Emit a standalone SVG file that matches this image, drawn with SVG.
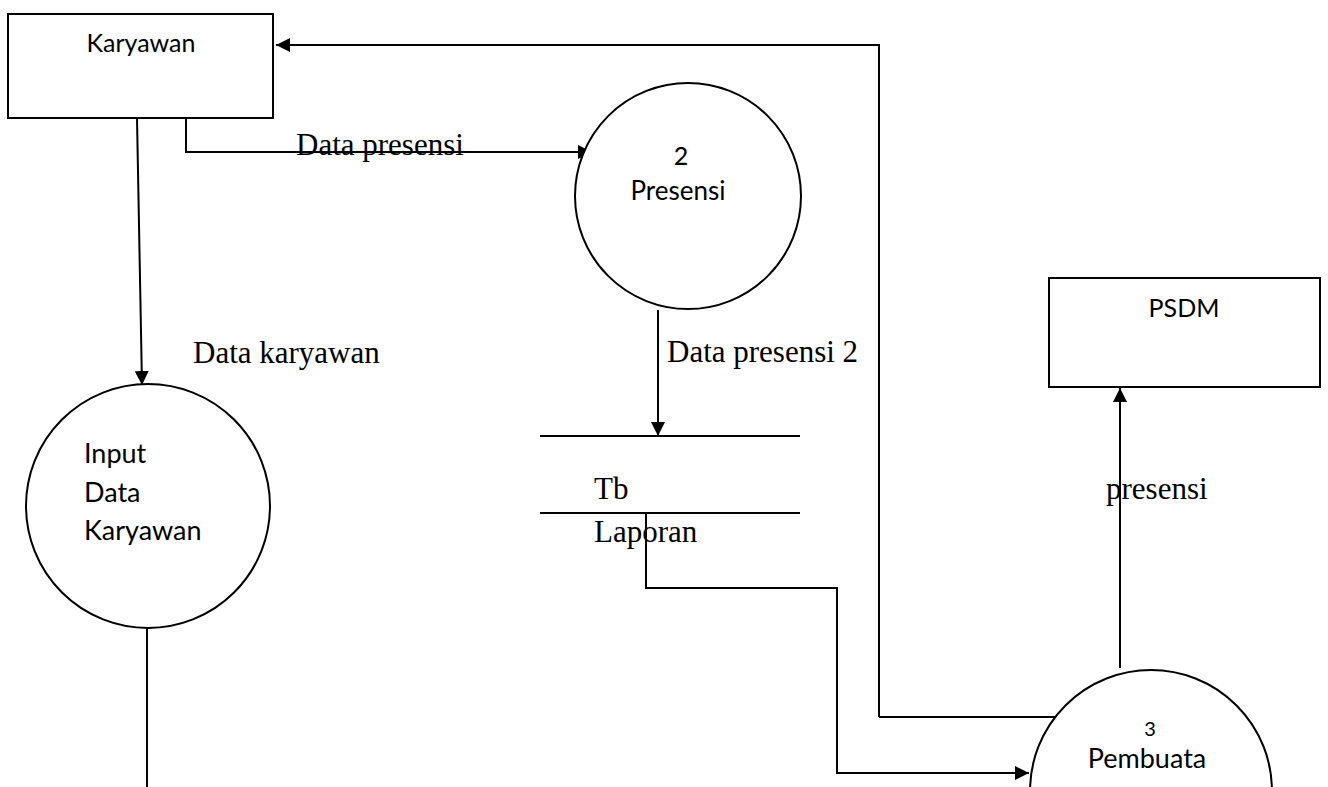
<svg xmlns="http://www.w3.org/2000/svg" width="1328" height="787" viewBox="0 0 1328 787">
<defs>
<marker id="arr" viewBox="0 0 10 10" refX="10" refY="5" markerWidth="14" markerHeight="14" markerUnits="userSpaceOnUse" orient="auto">
<path d="M0,0 L10,5 L0,10 z" fill="#000"/>
</marker>
</defs>
<style>
.sh{fill:#fff;stroke:#000;stroke-width:2}
.ln{fill:none;stroke:#000;stroke-width:2}
.sans{font-family:Lato,"Open Sans",sans-serif;fill:#000}
.serif{font-family:"Liberation Serif","Times New Roman",serif;fill:#000;font-size:31px}
</style>
<rect width="1328" height="787" fill="#fff"/>
<g id="connectors">
<path class="ln" d="M879,717 L879,45 L276,45" marker-end="url(#arr)"/>
<path class="ln" d="M879,717 L1068,717"/>
<path class="ln" d="M186,118 L186,152 L592,152" marker-end="url(#arr)"/>
<path class="ln" d="M137,118 L142,385" marker-end="url(#arr)"/>
<path class="ln" d="M147,627 L147,787"/>
<path class="ln" d="M658,310 L658,436" marker-end="url(#arr)"/>
<path class="ln" d="M646,513 L646,588 L837,588 L837,773 L1029,773" marker-end="url(#arr)"/>
<path class="ln" d="M1120,668 L1120,388" marker-end="url(#arr)"/>
<text class="serif" x="296" y="155">Data presensi</text>
<text class="serif" x="193" y="363">Data karyawan</text>
<text class="serif" x="667" y="362">Data presensi 2</text>
<text class="serif" x="1106" y="499">presensi</text>
</g>
<g id="karyawan">
<rect class="sh" x="8" y="14" width="265" height="104"/>
<text class="sans" x="141" y="52" font-size="25" text-anchor="middle">Karyawan</text>
</g>
<g id="presensi">
<circle class="sh" cx="688" cy="196" r="113"/>
<text class="sans" x="681" y="165" font-size="25" text-anchor="middle">2</text>
<text class="sans" x="678" y="200" font-size="26" text-anchor="middle">Presensi</text>
</g>
<g id="input-data-karyawan">
<circle class="sh" cx="148" cy="506" r="122"/>
<text class="sans" x="84" y="463" font-size="27">Input</text>
<text class="sans" x="84" y="502" font-size="27">Data</text>
<text class="sans" x="84" y="540" font-size="27">Karyawan</text>
</g>
<g id="tb-laporan">
<line class="ln" x1="540" y1="436" x2="800" y2="436"/>
<line class="ln" x1="540" y1="513" x2="800" y2="513"/>
<text class="serif" x="594" y="499">Tb</text>
<text class="serif" x="594" y="542">Laporan</text>
</g>
<g id="psdm">
<rect class="sh" x="1049" y="278" width="271" height="109"/>
<text class="sans" x="1184" y="317" font-size="25" text-anchor="middle">PSDM</text>
</g>
<g id="pembuatan">
<circle class="sh" cx="1151" cy="791" r="121"/>
<text class="sans" x="1150" y="736" font-size="20" text-anchor="middle">3</text>
<text class="sans" x="1147" y="768" font-size="27" text-anchor="middle">Pembuata</text>
</g>
</svg>
